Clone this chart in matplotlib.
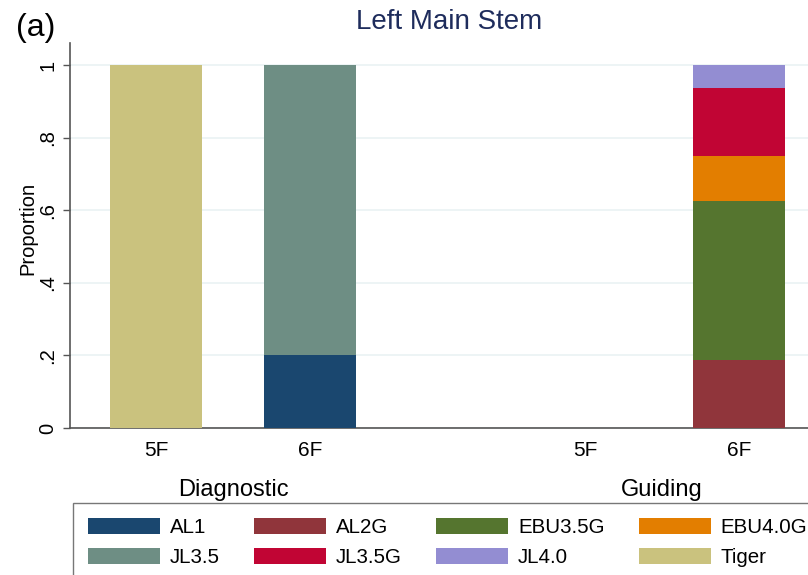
import matplotlib
matplotlib.use("Agg")
import matplotlib.pyplot as plt
from matplotlib.patches import Patch

plt.rcParams['font.family'] = ['Liberation Sans', 'DejaVu Sans']

# ---- data ----
groups = ["Diagnostic", "Guiding"]
sizes = ["5F", "6F", "5F", "6F"]
series_names = ["AL1", "AL2G", "EBU3.5G", "EBU4.0G", "JL3.5", "JL3.5G", "JL4.0", "Tiger"]
AL1     = [0.0, 0.2, 0.0, 0.0]
AL2G    = [0.0, 0.0, 0.0, 0.1875]
EBU35G  = [0.0, 0.0, 0.0, 0.4375]
EBU40G  = [0.0, 0.0, 0.0, 0.125]
JL35    = [0.0, 0.8, 0.0, 0.0]
JL35G   = [0.0, 0.0, 0.0, 0.1875]
JL40    = [0.0, 0.0, 0.0, 0.0625]
Tiger   = [1.0, 0.0, 0.0, 0.0]
series_values = [AL1, AL2G, EBU35G, EBU40G, JL35, JL35G, JL40, Tiger]
colors = ["#1a476f", "#90353b", "#55752f", "#e37e00",
          "#6e8e84", "#c10534", "#938dd2", "#cac27e"]
yticks = [0, 0.2, 0.4, 0.6, 0.8, 1.0]
ytick_labels = ["0", ".2", ".4", ".6", ".8", "1"]

# ---- layout ----
W, H = 808, 575
fig = plt.figure(figsize=(W / 100, H / 100), dpi=100)
fig.patch.set_facecolor("white")
ax = fig.add_axes([70 / W, 1 - 428 / H, (825 - 70) / W, (428 - 43) / H])

gap = (585 - 310) / 154.0
xpos = [1.0, 2.0, 2.0 + gap, 3.0 + gap]
bar_w = 92 / 154.0

bottom = [0.0] * 4
for name, vals, c in zip(series_names, series_values, colors):
    ax.bar(xpos, vals, width=bar_w, bottom=bottom, color=c, label=name,
           linewidth=0, zorder=3)
    bottom = [b + v for b, v in zip(bottom, vals)]

ax.set_xlim(1 - 86 / 154.0, 3 + gap + 86 / 154.0)
ax.set_ylim(0, 1 + 22 / 363.0)

ax.set_yticks(yticks)
ax.set_yticklabels(ytick_labels, rotation=90, va="center", fontsize=14.5)
ax.yaxis.grid(True, color="#eaf2f3", linewidth=1.2, zorder=0)
ax.tick_params(axis="y", length=5, width=1, color="#555555", pad=4)
ax.set_xticks(xpos)
ax.set_xticklabels(sizes, fontsize=15)
ax.tick_params(axis="x", length=0, pad=9)

for s in ["top", "right"]:
    ax.spines[s].set_visible(False)
ax.spines["left"].set_color("#555555")
ax.spines["bottom"].set_color("#555555")
ax.spines["left"].set_linewidth(1.2)
ax.spines["bottom"].set_linewidth(1.2)

# group labels
for i, g in enumerate(groups):
    xc = (xpos[2 * i] + xpos[2 * i + 1]) / 2
    ax.text(xc, -0.16, g, transform=ax.get_xaxis_transform(), ha="center",
            va="center", fontsize=17)

fig.text(28 / W, 1 - 228 / H, "Proportion", rotation=90, ha="center",
         va="center", fontsize=14.5)
fig.text(449 / W, 1 - 22 / H, "Left Main Stem", ha="center", va="center",
         fontsize=20, color="#1e2c5c")
fig.text(16 / W, 1 - 28 / H, "(a)", ha="left", va="center", fontsize=23)

# legend (column-wise order)
order = [0, 4, 1, 5, 2, 6, 3, 7]
handles = [Patch(facecolor=colors[i], edgecolor="none") for i in order]
labels = [series_names[i] for i in order]
leg = fig.legend(handles, labels, ncol=4, loc="upper left",
                 bbox_to_anchor=(73 / W, 1 - 503 / H), bbox_transform=fig.transFigure,
                 fontsize=14.8, handlelength=3.5, handleheight=0.87,
                 handletextpad=0.5, columnspacing=1.65, labelspacing=0.5,
                 borderpad=0.72, borderaxespad=0, fancybox=False, frameon=True)
leg.get_frame().set_edgecolor("#555555")
leg.get_frame().set_linewidth(1.0)

fig.savefig("out.png", dpi=100, facecolor="white")
